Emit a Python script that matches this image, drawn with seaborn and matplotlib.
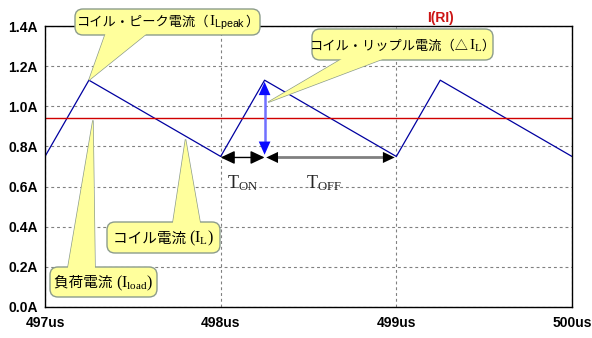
import matplotlib
matplotlib.use("Agg")
import matplotlib.pyplot as plt
import seaborn as sns
from matplotlib.patches import FancyBboxPatch, Polygon
from matplotlib.offsetbox import TextArea, HPacker, AnnotationBbox
from matplotlib.transforms import IdentityTransform

# Inductor current (triangle wave), time in microseconds, current in amperes
t_us = [497.0, 497.25, 498.0, 498.25, 499.0, 499.25, 500.0]
i_coil = [0.75, 1.13, 0.75, 1.13, 0.75, 1.13, 0.75]

# Load current through Rl
i_load = 0.94

# One switching period used for the T_ON / T_OFF and ripple markers
t_on_start, t_on_end, t_off_end = 498.0, 498.25, 499.0
i_peak, i_valley = 1.13, 0.75

x_ticks = [497, 498, 499, 500]
x_tick_labels = ["497us", "498us", "499us", "500us"]
y_ticks = [0.0, 0.2, 0.4, 0.6, 0.8, 1.0, 1.2, 1.4]
y_tick_labels = ["0.0A", "0.2A", "0.4A", "0.6A", "0.8A", "1.0A", "1.2A", "1.4A"]

W, H = 592, 338
sns.set_theme(style="white")
plt.rcParams["font.family"] = ["Liberation Sans", "DejaVu Sans"]
plt.rcParams["mathtext.fontset"] = "custom"
plt.rcParams["mathtext.rm"] = "Liberation Serif"
plt.rcParams["mathtext.it"] = "Liberation Serif:italic"
plt.rcParams["mathtext.bf"] = "Liberation Serif:bold"
plt.rcParams["mathtext.sf"] = "Liberation Sans"

fig = plt.figure(figsize=(W / 100, H / 100), dpi=100)
fig.patch.set_facecolor("white")
ax = fig.add_axes([45 / W, 1 - 307 / H, (572 - 45) / W, (307 - 26) / H])
ax.set_facecolor("white")

sns.lineplot(x=t_us, y=i_coil, color="#0000a0", linewidth=0.9, ax=ax)
ax.axhline(i_load, color="#d00000", linewidth=1.0)

ax.set_xlim(x_ticks[0], x_ticks[-1])
ax.set_ylim(y_ticks[0], y_ticks[-1])
ax.set_xticks(x_ticks, labels=x_tick_labels)
ax.set_yticks(y_ticks, labels=y_tick_labels)
ax.set_xlabel("")
ax.set_ylabel("")
ax.grid(True, color="#808080", linestyle=(0, (2.6, 2.6)), linewidth=0.8)
for side in ["left", "right", "top", "bottom"]:
    ax.spines[side].set_visible(True)
    ax.spines[side].set_color("black")
    ax.spines[side].set_linewidth(1.0)
ax.tick_params(axis="both", direction="out", length=4.5, width=1.0,
               color="black", labelcolor="black")
ax.tick_params(axis="y", pad=0.8)
ax.tick_params(axis="x", pad=2.0)
for lab in ax.get_xticklabels() + ax.get_yticklabels():
    lab.set_fontfamily("Liberation Sans")
    lab.set_fontweight("bold")
    lab.set_fontsize(10)

# Trace name
fig.text(440 / W, 1 - 18 / H, "I(RI)", color="#cc1515", fontsize=10,
         fontweight="bold", ha="center", va="center",
         fontfamily="Liberation Sans")

# Ripple arrow (peak to valley)
ax.plot([t_on_end, t_on_end], [i_valley + 0.04, i_peak - 0.04],
        color="#7070ff", linewidth=1.8, solid_capstyle="butt")
ax.annotate("", xy=(t_on_end, i_peak), xytext=(t_on_end, i_valley),
            arrowprops=dict(arrowstyle="<|-|>,head_length=0.95,head_width=0.42",
                            fc="#0a0aff", ec="none", mutation_scale=10,
                            shrinkA=0, shrinkB=0))

# T_ON arrow
ax.annotate("", xy=(t_on_end, i_valley - 0.005), xytext=(t_on_start, i_valley - 0.005),
            arrowprops=dict(arrowstyle="<|-|>,head_length=0.85,head_width=0.4",
                            fc="black", ec="black", lw=1.0, mutation_scale=10,
                            shrinkA=0, shrinkB=0))
# T_OFF arrow: grey shaft, black heads
ax.plot([t_on_end + 0.04, t_off_end - 0.04], [i_valley - 0.005] * 2,
        color="#808080", linewidth=2.0, solid_capstyle="butt")
ax.annotate("", xy=(t_off_end, i_valley - 0.005), xytext=(t_on_end, i_valley - 0.005),
            arrowprops=dict(arrowstyle="<|-|>,head_length=0.85,head_width=0.4",
                            fc="black", ec="none", mutation_scale=10,
                            shrinkA=0, shrinkB=0))

ax.annotate(r"$\mathrm{T_{ON}}$", xy=((t_on_start + t_on_end) / 2, i_valley),
            xytext=(0, -19), textcoords="offset points", ha="center",
            va="center", fontsize=13, annotation_clip=False)
ax.annotate(r"$\mathrm{T_{OFF}}$", xy=((t_on_end + t_off_end) / 2, i_valley),
            xytext=(-5, -19), textcoords="offset points", ha="center",
            va="center", fontsize=13, annotation_clip=False)


def px(x, y_top):
    """Image pixel (origin top-left) to display pixel (origin bottom-left)."""
    return (x, H - y_top)


CJK = ["Noto Sans CJK JP", "DejaVu Sans"]
BOX_FC = "#ffff9c"
BOX_EC = "#8c9c8c"


def callout(pieces, box, base, tip):
    x0, y0, x1, y1 = box
    tip_disp = ax.transData.transform(tip)
    b0, b1 = px(*base[0]), px(*base[1])
    ident = IdentityTransform()
    tail = Polygon([b0, b1, tip_disp], closed=True, fc=BOX_FC, ec=BOX_EC,
                   lw=1.0, transform=ident, zorder=2)
    fig.add_artist(tail)
    rect = FancyBboxPatch(px(x0, y1), x1 - x0, y1 - y0,
                          boxstyle="round,pad=0,rounding_size=8",
                          mutation_scale=1, fc=BOX_FC, ec=BOX_EC, lw=1.0,
                          transform=ident, zorder=3)
    fig.add_artist(rect)
    # extend the tail a little into the box so it merges with it
    k = 0.06
    e0 = (b0[0] + (b0[0] - tip_disp[0]) * k, b0[1] + (b0[1] - tip_disp[1]) * k)
    e1 = (b1[0] + (b1[0] - tip_disp[0]) * k, b1[1] + (b1[1] - tip_disp[1]) * k)
    cover = Polygon([e0, e1, tip_disp], closed=True, fc=BOX_FC, ec="none",
                    transform=ident, zorder=4)
    fig.add_artist(cover)
    children = []
    for text, fam, size in pieces:
        children.append(TextArea(text, textprops=dict(fontfamily=fam, fontsize=size,
                                                      color="black")))
    pack = HPacker(children=children, align="baseline", pad=0, sep=0)
    ab = AnnotationBbox(pack, px((x0 + x1) / 2, (y0 + y1) / 2 + 1),
                        xycoords="figure pixels", frameon=False,
                        box_alignment=(0.5, 0.5), pad=0, zorder=5,
                        annotation_clip=False)
    fig.add_artist(ab)


SERIF = ["Liberation Serif"]

callout([("コイル・ピーク電流（", CJK, 9.5),
         (r"$\mathrm{I}_{\mathsf{Lpeak}}$", SERIF, 11),
         ("）", CJK, 9.5)],
        (75, 9, 260, 35), [(105, 35), (145, 35)], (t_us[1], i_coil[1]))

callout([("コイル・リップル電流（△", CJK, 9.5),
         (r"$\mathrm{I_{L}}$", SERIF, 11),
         ("）", CJK, 9.5)],
        (312, 29, 493, 60), [(340, 60), (380, 60)], (498.27, 1.02))

callout([("コイル電流 ", CJK, 10.5),
         (r"$\mathrm{(I_{L})}$", SERIF, 11.5)],
        (107, 222, 220, 253), [(173, 222), (200, 222)], (497.80, 0.835))

callout([("負荷電流 ", CJK, 10.5),
         (r"$\mathrm{(I_{load})}$", SERIF, 11.5)],
        (50, 267, 157, 297), [(68, 267), (95, 267)], (497.273, 0.93))

fig.savefig("out.png", dpi=100, facecolor="white")
